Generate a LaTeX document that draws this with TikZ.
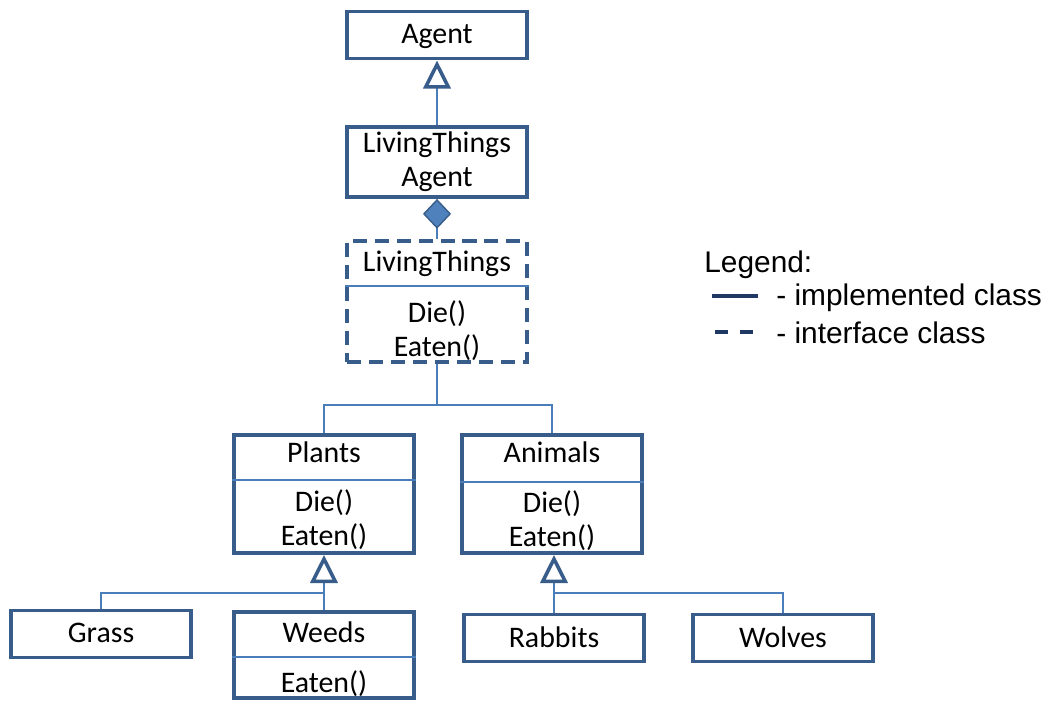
\documentclass[tikz,border=0pt]{standalone}
\usepackage{fontspec}
\setmainfont{Carlito}
\newfontfamily\legendfont{Liberation Sans}
\usetikzlibrary{arrows.meta,positioning}

\definecolor{boxblue}{HTML}{385D8A}
\definecolor{linkblue}{HTML}{4A7EBB}
\definecolor{diamondblue}{HTML}{4F81BD}
\definecolor{legendnavy}{HTML}{1F3864}

\newcommand{\clswidth}{3.6cm}
\newcommand{\clsfont}{\fontsize{17}{19.5}\selectfont}

\tikzset{
  cls/.style={draw=boxblue, line width=2.2pt, minimum width=\clswidth,
    inner sep=0pt, align=center, font=\clsfont},
  iface/.style={cls, dash pattern=on 8pt off 4.5pt},
  txt/.style={inner sep=0pt, align=center, font=\clsfont},
  legtxt/.style={inner sep=0pt, anchor=west, font=\legendfont\fontsize{17}{19}\selectfont},
  link/.style={draw=linkblue, line width=0.8pt},
  inherit/.style={link, -{Triangle[length=16pt, width=15.5pt, line width=2pt,
    color=boxblue, fill=white]}},
  compose/.style={link, -{Diamond[length=17pt, width=16pt, color=boxblue,
    fill=diamondblue]}}
}

\begin{document}
\begin{tikzpicture}[x=0.02cm, y=-0.02cm]
  \useasboundingbox (0,0) rectangle (1049,703);

  % plain classes
  \foreach \name/\x/\y/\label in {agent/437/35/Agent, grass/101/634/Grass,
      rabbits/554/638/Rabbits, wolves/783/638/Wolves}
    \node[cls, minimum height=0.94cm, text depth=1pt] (\name) at (\x,\y) {\label};

  \node[cls, minimum height=1.4cm] (ltagent) at (437,162) {LivingThings\\Agent};

  % classes with methods
  \node[iface, minimum height=2.42cm] (living) at (437,301.5) {};
  \node[cls, minimum height=2.36cm] (plants) at (324,494) {};
  \node[cls, minimum height=2.36cm] (animals) at (552,494) {};
  \node[cls, minimum height=1.72cm] (weeds) at (324,655) {};

  \node[txt] (livingT) at (437,264) {LivingThings};
  \node[txt] (livingM) at (437,331) {Die()\\Eaten()};
  \node[txt] (plantsT) at (324,452) {Plants};
  \node[txt] (plantsM) at (324,520) {Die()\\Eaten()};
  \node[txt] (animalsT) at (552,452) {Animals};
  \node[txt] (animalsM) at (552,521) {Die()\\Eaten()};
  \node[txt] (weedsT) at (324,632) {Weeds};
  \node[txt] (weedsM) at (324,684) {Eaten()};

  \foreach \name/\y in {living/286, plants/480, animals/482, weeds/657}
    \draw[link] (\name.west |- 0,\y) -- (\name.east |- 0,\y);

  % connectors
  \draw[inherit] (ltagent) -- (agent);
  \draw[compose] (living) -- (ltagent);

  \coordinate (livingJ) at (437,405);
  \draw[link] (living) -- (livingJ) -| (plants);
  \draw[link] (livingJ) -| (animals);

  \coordinate (plantsJ) at (324,593);
  \draw[inherit] (weeds) -- (plants);
  \draw[link] (grass) |- (plantsJ);

  \coordinate (animalsJ) at (554,593);
  \draw[inherit] (rabbits) -- (animals.south -| rabbits);
  \draw[link] (wolves) |- (animalsJ);

  % legend
  \node[legtxt] (legend) at (704,265) {Legend:};
  \node[legtxt] (implemented) at (776,298) {- implemented class};
  \node[legtxt] (interface) at (776,333) {- interface class};
  \coordinate (solidA) at (712,296);
  \coordinate (solidB) at (758,296);
  \coordinate (dashA) at (715,332);
  \coordinate (dashB) at (756,332);
  \draw[legendnavy, line width=2pt] (solidA) -- (solidB);
  \draw[legendnavy, line width=2pt, dash pattern=on 7.4pt off 6.8pt] (dashA) -- (dashB);
\end{tikzpicture}
\end{document}
